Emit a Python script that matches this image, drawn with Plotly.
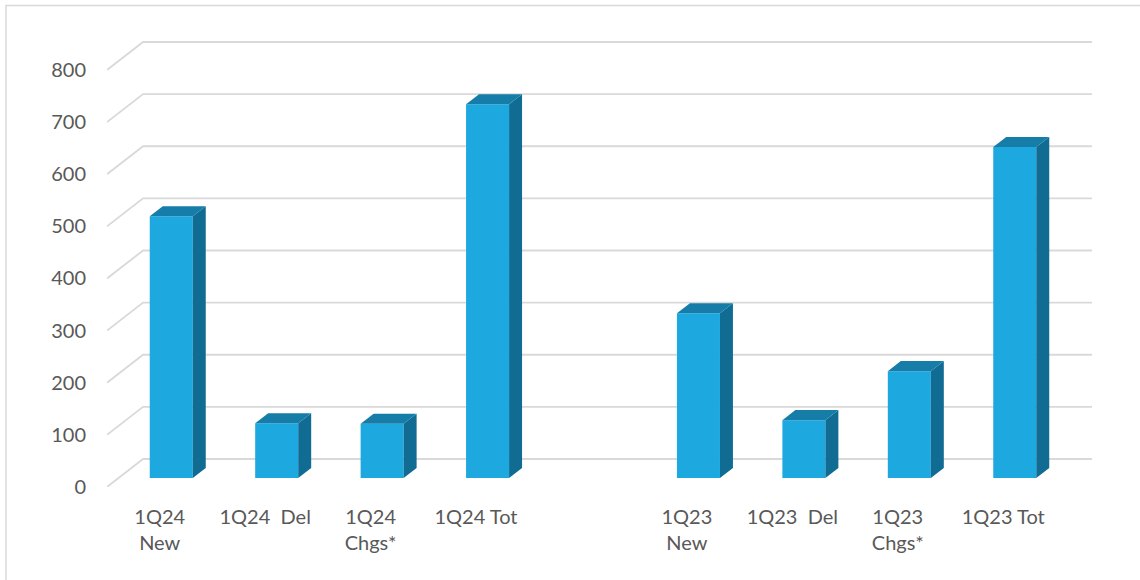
import plotly.graph_objects as go

# ---- data ----
categories = ["1Q24<br>New", "1Q24\u00a0 Del", "1Q24<br>Chgs*", "1Q24 Tot", "",
              "1Q23<br>New", "1Q23\u00a0 Del", "1Q23<br>Chgs*", "1Q23 Tot"]
values = [502, 105, 104, 717, None, 316, 111, 205, 635]
y_ticks = [0, 100, 200, 300, 400, 500, 600, 700, 800]

# ---- 3D look parameters (in axis units) ----
DX = 0.342   # full depth shift along x (category units)
DY = 53.7    # full depth shift along y (value units)
D0, D1 = 0.32, 0.68   # bar front / back depth fractions
W = 0.408    # bar width

FRONT = "#1DA8E0"
TOP = "#167DA9"
SIDE = "#116C93"
GRID = "#D9D9D9"
TEXT = "#595959"

x_pos = list(range(len(categories)))

fig = go.Figure()

# front faces (real bars)
bx, by = [], []
for i, v in zip(x_pos, values):
    if v is None:
        continue
    bx.append(i + D0 * DX)
    by.append(v)
fig.add_trace(go.Bar(x=bx, y=by, base=D0 * DY, width=W,
                     marker=dict(color=FRONT, line=dict(width=0)),
                     hoverinfo="skip", showlegend=False))

# side and top faces
sx, sy, tx, ty = [], [], [], []
for i, v in zip(x_pos, values):
    if v is None:
        continue
    cx = i + D0 * DX
    r = cx + W / 2
    l = cx - W / 2
    ddx = (D1 - D0) * DX
    sx += [r, r + ddx, r + ddx, r, r, None]
    sy += [D0 * DY, D1 * DY, v + D1 * DY, v + D0 * DY, D0 * DY, None]
    tx += [l, r, r + ddx, l + ddx, l, None]
    ty += [v + D0 * DY, v + D0 * DY, v + D1 * DY, v + D1 * DY, v + D0 * DY, None]
fig.add_trace(go.Scatter(x=sx, y=sy, mode="lines", fill="toself", fillcolor=SIDE,
                         line=dict(width=0, color=SIDE), hoverinfo="skip", showlegend=False))
fig.add_trace(go.Scatter(x=tx, y=ty, mode="lines", fill="toself", fillcolor=TOP,
                         line=dict(width=0, color=TOP), hoverinfo="skip", showlegend=False))

# gridlines (front edge slanting to back wall), drawn below traces
x_left = -0.5
x_right = len(categories) - 0.5 + DX
for t in y_ticks:
    path = (f"M {x_left},{t} L {x_left + DX},{t + DY} L {x_right},{t + DY}")
    fig.add_shape(type="path", path=path, xref="x", yref="y", layer="below",
                  line=dict(color=GRID, width=1.8))

# outer border (top and left visible)
fig.add_shape(type="rect", xref="paper", yref="paper",
              x0=-0.1025, x1=1.3, y0=-0.4, y1=1.063,
              line=dict(color=GRID, width=1.5), layer="below")

fig.update_layout(
    width=1140, height=580,
    margin=dict(l=107, r=48, t=34, b=93),
    paper_bgcolor="white", plot_bgcolor="white",
    font=dict(family="Lato, Open Sans, sans-serif", size=20, color=TEXT),
    showlegend=False,
    xaxis=dict(range=[x_left, x_right], tickmode="array", tickvals=x_pos,
               ticktext=categories, showgrid=False, zeroline=False,
               showline=False, ticks="", ticklabelstandoff=16,
               fixedrange=True),
    yaxis=dict(range=[0, 869], tickmode="array", tickvals=y_ticks,
               ticktext=[str(t) for t in y_ticks], showgrid=False,
               zeroline=False, showline=False, ticks="",
               ticklabelstandoff=20, fixedrange=True),
)

fig.write_html("out.html")
